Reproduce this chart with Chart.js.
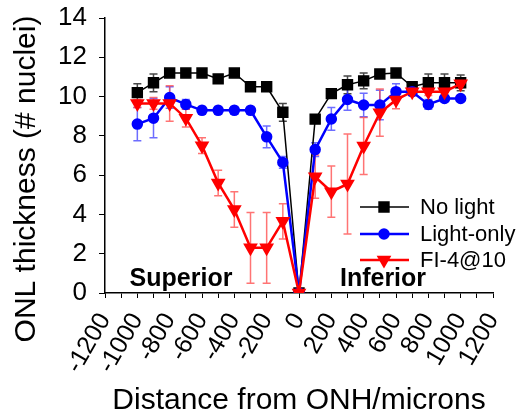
<!DOCTYPE html>
<html>
<head>
<meta charset="utf-8">
<script src="https://cdn.jsdelivr.net/npm/chart.js@4.4.0/dist/chart.umd.min.js"></script>
<style>
html, body { margin: 0; padding: 0; background: #fff; overflow: hidden; }
</style>
</head>
<body>
<canvas id="onlChart" width="516" height="419"></canvas>
<script>
// distance from optic nerve head (microns)
const distances = [-1000, -900, -800, -700, -600, -500, -400, -300, -200, -100, 0,
                   100, 200, 300, 400, 500, 600, 700, 800, 900, 1000];

const noLight    = [10.2, 10.7, 11.2, 11.2, 11.2, 10.9, 11.2, 10.5, 10.5, 9.2, 0,
                    8.85, 10.15, 10.6, 10.8, 11.15, 11.2, 10.5, 10.7, 10.7, 10.7];
const noLightErr = [0.45, 0.45, 0.15, 0.15, 0.15, 0.15, 0.15, 0.15, 0.15, 0.45, 0,
                    0.2, 0.2, 0.45, 0.4, 0.2, 0.2, 0.2, 0.45, 0.45, 0.4];

const lightOnly    = [8.6, 8.9, 9.95, 9.6, 9.3, 9.3, 9.3, 9.3, 7.95, 6.65, 0,
                      7.3, 8.86, 9.85, 9.57, 9.57, 10.25, 10.25, 9.6, 9.9, 9.9];
const lightOnlyErr = [0.85, 1.0, 0.55, 0.25, 0.2, 0.2, 0.2, 0.2, 0.55, 0.3, 0,
                      0.35, 0.58, 0.55, 0.6, 0.75, 0.4, 0.2, 0.25, 0.15, 0.1];

const fi4    = [9.65, 9.65, 9.65, 8.9, 7.5, 5.6, 4.25, 2.3, 2.3, 3.65, 0,
                5.92, 5.16, 5.55, 7.48, 9.18, 9.83, 10.25, 10.25, 10.25, 10.65];
const fi4Err = [0.2, 0.3, 0.9, 0.45, 0.4, 0.65, 0.9, 1.8, 1.8, 0.9, 0,
                1.1, 1.3, 2.55, 1.45, 1.2, 0.45, 0.2, 0.2, 0.2, 0.2];

const seriesNames = ['No light', 'Light-only', 'FI-4@10'];
const xTickLabels = [-1200, -1000, -800, -600, -400, -200, 0, 200, 400, 600, 800, 1000, 1200];
const yTitle = 'ONL thickness (# nuclei)';

const FONT = 'Liberation Sans, Arial, sans-serif';

function toPoints(vals) {
    return distances.map((d, i) => ({ x: d, y: vals[i] }));
}

// error bars drawn under the markers
const errorBars = {
    id: 'errorBars',
    beforeDatasetsDraw(chart) {
        const ctx = chart.ctx;
        const xs = chart.scales.x, ys = chart.scales.y;
        chart.data.datasets.forEach(ds => {
            ctx.save();
            ctx.strokeStyle = ds.errColor;
            ctx.lineWidth = 1.5;
            ds.data.forEach((p, i) => {
                const e = ds.errors[i];
                if (!e) return;
                const px = xs.getPixelForValue(p.x);
                const top = ys.getPixelForValue(p.y + e);
                const bot = ys.getPixelForValue(p.y - e);
                ctx.beginPath();
                ctx.moveTo(px, top); ctx.lineTo(px, bot);
                ctx.moveTo(px - 4, top); ctx.lineTo(px + 4, top);
                ctx.moveTo(px - 4, bot); ctx.lineTo(px + 4, bot);
                ctx.stroke();
            });
            ctx.restore();
        });
    }
};

// legend inside the plot, region labels and the y title (sits lower than centre)
const overlay = {
    id: 'overlay',
    afterDraw(chart) {
        const ctx = chart.ctx;
        const rows = [207, 234, 260];
        ctx.save();
        chart.data.datasets.forEach((ds, i) => {
            const y = rows[i];
            ctx.strokeStyle = ds.borderColor;
            ctx.lineWidth = ds.borderWidth;
            ctx.beginPath();
            ctx.moveTo(360, y); ctx.lineTo(409, y);
            ctx.stroke();
            Chart.helpers.drawPoint(ctx, {
                pointStyle: ds.pointStyle,
                rotation: ds.pointRotation || 0,
                radius: ds.pointRadius,
                borderWidth: 1
            }, 384, y);
            ctx.fillStyle = ds.borderColor;
            ctx.strokeStyle = ds.borderColor;
            ctx.fill();
            ctx.fillStyle = '#000';
            ctx.font = '22px ' + FONT;
            ctx.textBaseline = 'middle';
            ctx.textAlign = 'left';
            ctx.fillText(seriesNames[i], 420, y + 1);
        });
        ctx.font = 'bold 25px ' + FONT;
        ctx.textAlign = 'center';
        ctx.textBaseline = 'middle';
        ctx.fillStyle = '#000';
        ctx.fillText('Superior', 181, 279);
        ctx.fillText('Inferior', 383, 279);

        ctx.translate(27, 179);
        ctx.rotate(-Math.PI / 2);
        ctx.font = '30px ' + FONT;
        ctx.fillText(yTitle, 0, 0);
        ctx.restore();
    }
};

new Chart(document.getElementById('onlChart'), {
    type: 'line',
    data: {
        datasets: [{
            label: seriesNames[0],
            data: toPoints(noLight),
            errors: noLightErr,
            errColor: 'rgba(40,40,40,0.85)',
            borderColor: '#000000',
            backgroundColor: '#000000',
            borderWidth: 1.5,
            pointStyle: 'rect',
            pointRadius: 7,
            order: 3
        }, {
            label: seriesNames[1],
            data: toPoints(lightOnly),
            errors: lightOnlyErr,
            errColor: 'rgba(60,60,255,0.75)',
            borderColor: '#0000ff',
            backgroundColor: '#0000ff',
            borderWidth: 2.5,
            pointStyle: 'circle',
            pointRadius: 4.5,
            order: 2
        }, {
            label: seriesNames[2],
            data: toPoints(fi4),
            errors: fi4Err,
            errColor: 'rgba(255,70,70,0.75)',
            borderColor: '#ff0000',
            backgroundColor: '#ff0000',
            borderWidth: 2.5,
            pointStyle: 'triangle',
            pointRotation: 180,
            pointRadius: 6,
            order: 1
        }]
    },
    options: {
        responsive: false,
        animation: false,
        layout: { padding: { left: 0, right: 23, top: 18, bottom: 0 } },
        plugins: {
            legend: { display: false },
            tooltip: { enabled: false }
        },
        elements: { line: { tension: 0 } },
        scales: {
            x: {
                type: 'linear',
                min: -1200,
                max: 1200,
                afterFit(scale) {
                    scale.height = 126;
                    scale.paddingLeft = 0;
                    scale.paddingRight = 0;
                },
                border: { display: true, color: '#000', width: 1.5 },
                grid: { drawOnChartArea: false, drawTicks: true, tickLength: 5, color: '#000' },
                ticks: {
                    stepSize: 100,
                    autoSkip: false,
                    minRotation: 60,
                    maxRotation: 60,
                    padding: 10,
                    color: '#000',
                    font: { family: FONT, size: 25 },
                    callback: v => xTickLabels.includes(v) ? String(v) : ''
                },
                title: {
                    display: true,
                    text: 'Distance from ONH/microns',
                    color: '#000',
                    font: { family: FONT, size: 30 },
                    padding: { top: 0, bottom: 0 }
                }
            },
            y: {
                min: 0,
                max: 14,
                afterFit(scale) {
                    scale.width = 105;
                    scale.paddingTop = 0;
                    scale.paddingBottom = 0;
                },
                border: { display: true, color: '#000', width: 1.5 },
                grid: { drawOnChartArea: false, drawTicks: true, tickLength: 6, color: '#000' },
                ticks: {
                    stepSize: 2,
                    padding: 12,
                    color: '#000',
                    font: { family: FONT, size: 26 }
                }
            }
        }
    },
    plugins: [errorBars, overlay]
});
</script>
</body>
</html>
